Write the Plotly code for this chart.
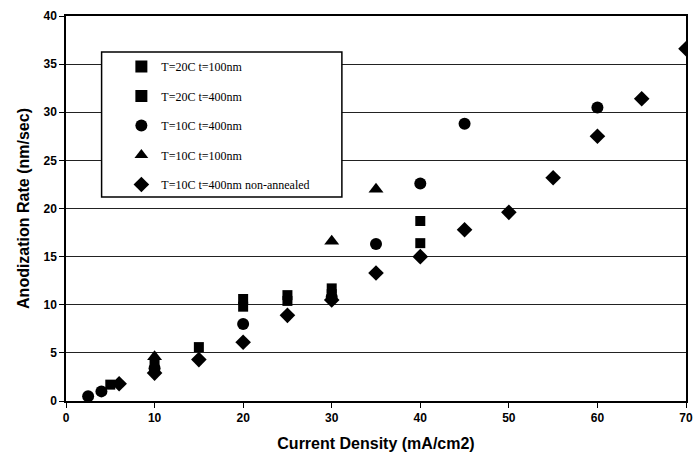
import plotly.graph_objects as go

# Data
s1_x = [5, 10, 15, 20, 25, 30, 40]
s1_y = [1.7, 3.8, 5.6, 10.6, 11.0, 11.7, 18.7]
s2_x = [20, 25, 30, 40]
s2_y = [9.8, 10.4, 11.1, 16.4]
s3_x = [2.5, 4, 10, 20, 30, 35, 40, 45, 60]
s3_y = [0.5, 1.0, 3.4, 8.0, 10.8, 16.3, 22.6, 28.8, 30.5]
s4_x = [10, 30, 35]
s4_y = [4.6, 16.6, 22.0]
s5_x = [6, 10, 15, 20, 25, 30, 35, 40, 45, 50, 55, 60, 65, 70]
s5_y = [1.8, 2.9, 4.3, 6.1, 8.9, 10.5, 13.3, 15.0, 17.8, 19.6, 23.2, 27.5, 31.4, 36.6]

names = ["T=20C t=100nm", "T=20C t=400nm", "T=10C t=400nm",
         "T=10C t=100nm", "T=10C t=400nm non-annealed"]
xs = [s1_x, s2_x, s3_x, s4_x, s5_x]
ys = [s1_y, s2_y, s3_y, s4_y, s5_y]
symbols = ["square", "square", "circle", "triangle-up", "diamond"]
sizes = [10, 10, 12, 13, 12]

L, R, T, B = 66, 7, 16, 62
W, H = 700, 463
pw, ph = W - L - R, H - T - B

fig = go.Figure()
for i in range(5):
    fig.add_trace(go.Scatter(
        x=xs[i], y=ys[i], mode="markers", name=names[i],
        legendgroup="g%d" % i,
        marker=dict(symbol=symbols[i], size=sizes[i], color="black",
                    line=dict(width=0)),
    ))

fig.add_shape(type="rect", xref="paper", yref="paper",
              x0=(102 - L) / pw, x1=(345 - L) / pw,
              y0=(H - B - 197) / ph, y1=(H - B - 52) / ph,
              line=dict(color="black", width=1.5), fillcolor="white",
              layer="above")

fig.update_layout(
    width=W, height=H,
    margin=dict(l=L, r=R, t=T, b=B),
    paper_bgcolor="white", plot_bgcolor="white",
    font=dict(family="Liberation Sans", color="black"),
    showlegend=True,
    legend=dict(
        x=(122 - L) / pw, y=(H - B - 52) / ph, xanchor="left", yanchor="top",
        bgcolor="rgba(0,0,0,0)", borderwidth=0,
        font=dict(family="Liberation Serif", size=12, color="black"),
        tracegroupgap=10.5, itemsizing="constant",
    ),
    xaxis=dict(
        range=[0, 70], tickvals=[0, 10, 20, 30, 40, 50, 60, 70],
        showgrid=False, zeroline=False,
        showline=True, linecolor="black", linewidth=1.5, mirror=True,
        ticks="outside", ticklen=5, tickcolor="black",
        tickfont=dict(family="Liberation Sans", size=12, color="black", weight="bold"),
        title=dict(text="<b>Current Density (mA/cm2)</b>",
                   font=dict(family="Liberation Sans", size=16, color="black"),
                   standoff=14),
    ),
    yaxis=dict(
        range=[0, 40], tickvals=[0, 5, 10, 15, 20, 25, 30, 35, 40],
        showgrid=True, gridcolor="#222222", gridwidth=1.2, zeroline=False,
        showline=True, linecolor="black", linewidth=1.5, mirror=True,
        ticks="outside", ticklen=5, tickcolor="black",
        tickfont=dict(family="Liberation Sans", size=12, color="black", weight="bold"),
        title=dict(text="<b>Anodization Rate (nm/sec)</b>",
                   font=dict(family="Liberation Sans", size=16, color="black"),
                   standoff=10),
    ),
)

fig.write_html("out.html")
